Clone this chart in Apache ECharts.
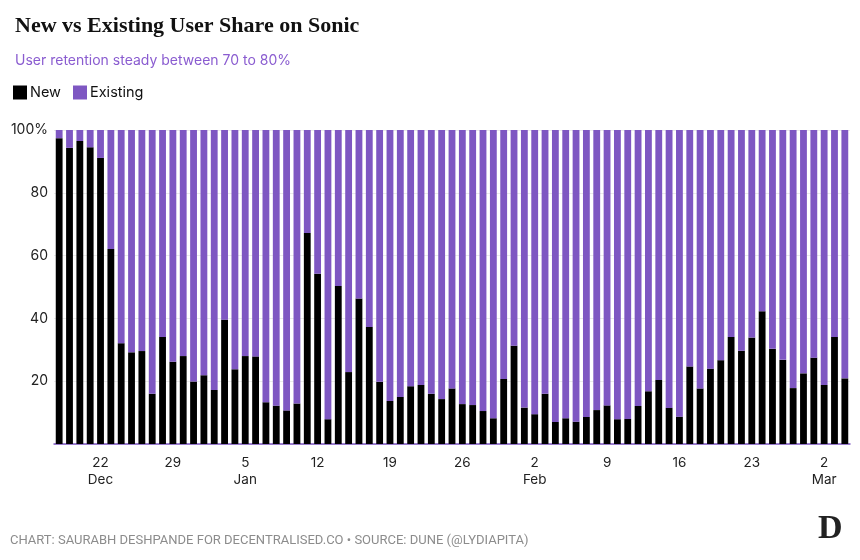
<!DOCTYPE html>
<html>
<head>
<meta charset="utf-8">
<script src="https://cdn.jsdelivr.net/npm/echarts@6/dist/echarts.min.js"></script>
<style>html,body{margin:0;padding:0;background:#fff}#c{width:860px;height:560px}</style>
</head>
<body>
<div id="c"></div>
<script>
var dates = [
"2024-12-18","2024-12-19","2024-12-20","2024-12-21","2024-12-22","2024-12-23","2024-12-24","2024-12-25","2024-12-26","2024-12-27",
"2024-12-28","2024-12-29","2024-12-30","2024-12-31","2025-01-01","2025-01-02","2025-01-03","2025-01-04","2025-01-05","2025-01-06",
"2025-01-07","2025-01-08","2025-01-09","2025-01-10","2025-01-11","2025-01-12","2025-01-13","2025-01-14","2025-01-15","2025-01-16",
"2025-01-17","2025-01-18","2025-01-19","2025-01-20","2025-01-21","2025-01-22","2025-01-23","2025-01-24","2025-01-25","2025-01-26",
"2025-01-27","2025-01-28","2025-01-29","2025-01-30","2025-01-31","2025-02-01","2025-02-02","2025-02-03","2025-02-04","2025-02-05",
"2025-02-06","2025-02-07","2025-02-08","2025-02-09","2025-02-10","2025-02-11","2025-02-12","2025-02-13","2025-02-14","2025-02-15",
"2025-02-16","2025-02-17","2025-02-18","2025-02-19","2025-02-20","2025-02-21","2025-02-22","2025-02-23","2025-02-24","2025-02-25",
"2025-02-26","2025-02-27","2025-02-28","2025-03-01","2025-03-02","2025-03-03","2025-03-04"
];
var newShare = [
97.4, 94.3, 96.5, 94.5, 91.1, 62.1, 32.1, 29.2, 29.6, 16.0,
34.1, 26.2, 28.0, 19.9, 21.9, 17.2, 39.6, 23.8, 28.0, 27.9,
13.3, 12.2, 10.7, 12.9, 67.2, 54.2, 7.9, 50.3, 22.9, 46.3,
37.3, 19.8, 13.7, 15.0, 18.4, 18.8, 16.0, 14.3, 17.7, 12.7,
12.4, 10.5, 8.2, 20.7, 31.3, 11.6, 9.5, 16.0, 7.0, 8.2,
7.1, 8.6, 10.8, 12.3, 7.9, 8.0, 12.1, 16.8, 20.4, 11.5,
8.7, 24.7, 17.7, 24.0, 26.7, 34.1, 29.7, 33.9, 42.3, 30.3,
26.8, 17.8, 22.5, 27.5, 18.8, 34.1, 20.9
];
var existingShare = [
2.6, 5.7, 3.5, 5.5, 8.9, 37.9, 67.9, 70.8, 70.4, 84.0,
65.9, 73.8, 72.0, 80.1, 78.1, 82.8, 60.4, 76.2, 72.0, 72.1,
86.7, 87.8, 89.3, 87.1, 32.8, 45.8, 92.1, 49.7, 77.1, 53.7,
62.7, 80.2, 86.3, 85.0, 81.6, 81.2, 84.0, 85.7, 82.3, 87.3,
87.6, 89.5, 91.8, 79.3, 68.7, 88.4, 90.5, 84.0, 93.0, 91.8,
92.9, 91.4, 89.2, 87.7, 92.1, 92.0, 87.9, 83.2, 79.6, 88.5,
91.3, 75.3, 82.3, 76.0, 73.3, 65.9, 70.3, 66.1, 57.7, 69.7,
73.2, 82.2, 77.5, 72.5, 81.2, 65.9, 79.1
];
var monthNames = ["Jan","Feb","Mar","Apr","May","Jun","Jul","Aug","Sep","Oct","Nov","Dec"];
var yTicks = [0, 20, 40, 60, 80, 100];

var PURPLE = '#7e57c2';
var chart = echarts.init(document.getElementById('c'));
chart.setOption({
  animation: false,
  backgroundColor: '#fff',
  title: {
    text: 'New vs Existing User Share on Sonic',
    subtext: 'User retention steady between 70 to 80%',
    left: 10, top: 10, itemGap: 17,
    textStyle: { fontFamily: 'Liberation Serif', fontWeight: 'bold', fontSize: 22, color: '#111' },
    subtextStyle: { fontFamily: 'Inter', fontSize: 14, color: '#8a5cd0' }
  },
  legend: {
    left: 8, top: 80, itemWidth: 14, itemHeight: 14, itemGap: 12,
    icon: 'rect',
    textStyle: { fontFamily: 'Inter', fontSize: 14.5, color: '#111', padding: [0,0,0,-2] },
    data: ['New', 'Existing']
  },
  grid: { left: 54, right: 10, top: 130, bottom: 116, containLabel: false },
  xAxis: {
    type: 'category',
    data: dates,
    axisLine: { lineStyle: { color: PURPLE, width: 1.5 } },
    axisTick: { show: false },
    axisLabel: {
      interval: function (i) { return (i - 4) % 7 === 0; },
      margin: 10,
      lineHeight: 17,
      fontFamily: 'Inter', fontSize: 13.5, color: '#222',
      formatter: function (v, i) {
        var p = v.split('-');
        var d = parseInt(p[2], 10);
        var m = monthNames[parseInt(p[1], 10) - 1];
        if (i === 4 || d <= 7) return d + '\n' + m;
        return String(d);
      }
    }
  },
  yAxis: {
    type: 'value', min: 0, max: 100, interval: 20,
    axisLine: { show: false }, axisTick: { show: false },
    splitLine: { lineStyle: { color: '#ebebeb', width: 1 } },
    axisLabel: {
      align: 'right', margin: 6,
      fontFamily: 'Inter', fontSize: 14, color: '#222',
      formatter: function (v) { return v === yTicks[yTicks.length - 1] ? v + '%' : (v === 0 ? '' : String(v)); }
    }
  },
  series: [
    { name: 'New', type: 'bar', stack: 'total', data: newShare, barCategoryGap: '34%', itemStyle: { color: '#000' } },
    { name: 'Existing', type: 'bar', stack: 'total', data: existingShare, barCategoryGap: '34%', itemStyle: { color: PURPLE } }
  ],
  graphic: [
    { type: 'text', left: 10, top: 534, style: { text: 'CHART: SAURABH DESHPANDE FOR DECENTRALISED.CO • SOURCE: DUNE (@LYDIAPITA)', fontFamily: 'Roboto', fontSize: 13, fill: '#8c8c8c' } },
    { type: 'text', left: 818, top: 512, style: { text: 'D', fontFamily: 'Liberation Serif', fontWeight: 'bold', fontSize: 34, fill: '#222' } }
  ]
});
</script>
</body>
</html>
